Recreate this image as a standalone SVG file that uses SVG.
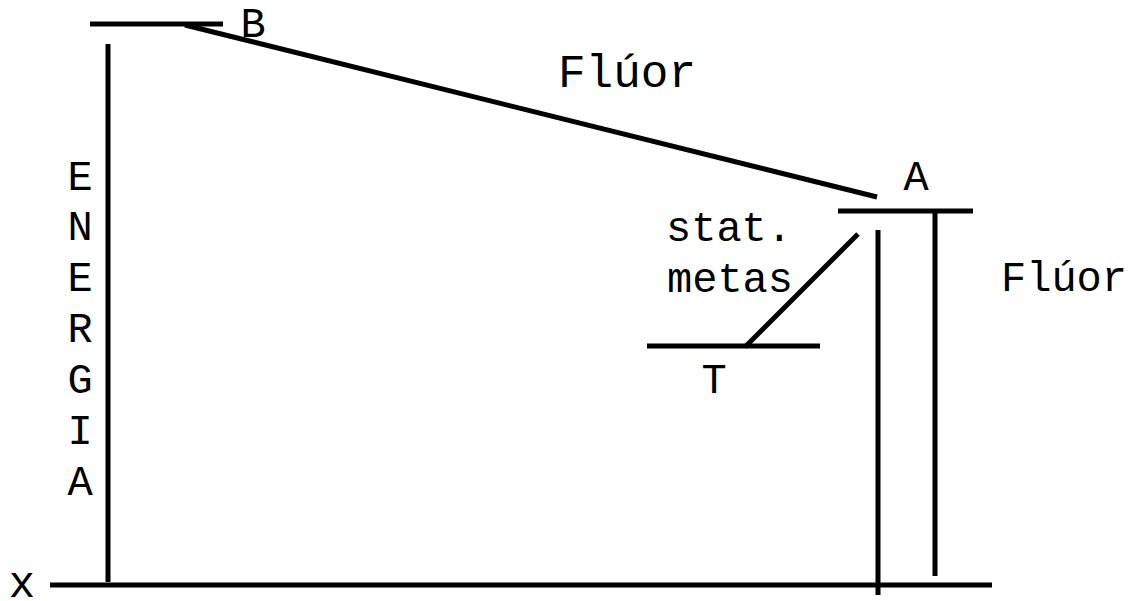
<svg xmlns="http://www.w3.org/2000/svg" width="1136" height="601" viewBox="0 0 1136 601">
<style>
.l{stroke:#000;stroke-width:5;fill:none;stroke-linecap:butt}
.t{font-family:"Liberation Mono","DejaVu Sans Mono",monospace;font-size:42px;fill:#000}
</style>
<rect width="1136" height="601" fill="#fff"/>
<g id="axes">
<line class="l" x1="108" y1="44" x2="108" y2="582"/>
<line class="l" x1="50" y1="585" x2="992" y2="585"/>
<text class="t" x="22" y="597" text-anchor="middle" style="font-size:44px">x</text>
<g id="energia" class="t" text-anchor="middle">
<text x="80" y="190">E</text>
<text x="80" y="240">N</text>
<text x="80" y="291">E</text>
<text x="80" y="342">R</text>
<text x="80" y="393">G</text>
<text x="80" y="444">I</text>
<text x="80" y="495">A</text>
</g>
</g>
<g id="levelB">
<line class="l" x1="90" y1="24" x2="223" y2="24"/>
<text class="t" x="253" y="37" text-anchor="middle">B</text>
</g>
<g id="levelA">
<line class="l" x1="838" y1="211" x2="973" y2="211"/>
<text class="t" x="916" y="190" text-anchor="middle">A</text>
</g>
<g id="levelT">
<line class="l" x1="647" y1="346" x2="820" y2="346"/>
<text class="t" x="714" y="393" text-anchor="middle">T</text>
</g>
<g id="connectors">
<line class="l" x1="185" y1="25" x2="877" y2="197"/>
<line class="l" x1="858" y1="234" x2="745" y2="347"/>
<line class="l" x1="878" y1="230" x2="878" y2="595"/>
<line class="l" x1="935" y1="211" x2="935" y2="576"/>
</g>
<g id="labels" class="t">
<text x="627" y="87" text-anchor="middle" style="font-size:46px">Flúor</text>
<text x="1064" y="291" text-anchor="middle">Flúor</text>
<text x="729" y="241" text-anchor="middle">stat.</text>
<text x="730" y="292" text-anchor="middle">metas</text>
</g>
</svg>
